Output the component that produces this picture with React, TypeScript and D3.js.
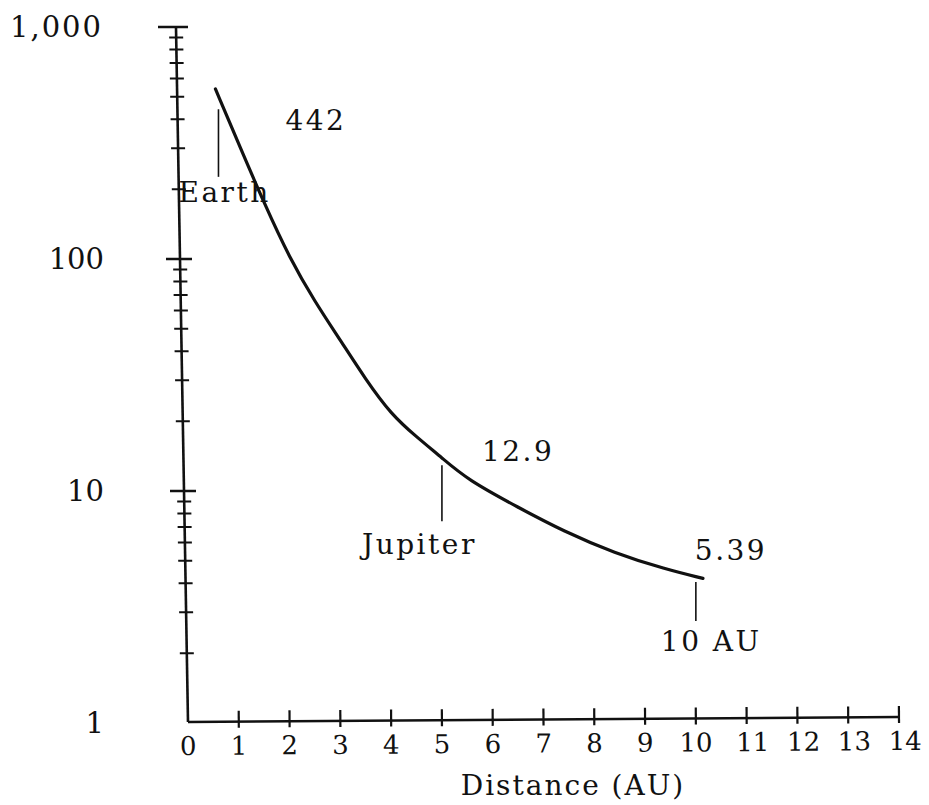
import React from 'react';
import * as d3 from 'd3';

// curve: distance from the sun (AU) vs. value on log axis
const distanceAU = [0.54, 1.02, 1.5, 2.0, 2.5, 3.0, 3.5, 4.0, 4.5, 5.0, 5.5, 6.5, 7.4, 8.4, 9.4, 10.14];
const intensity = [541, 305, 174, 101, 65.3, 44.7, 30.2, 21.4, 17.1, 13.9, 11.2, 8.5, 6.7, 5.4, 4.6, 4.2];

const xTickValues = [0, 1, 2, 3, 4, 5, 6, 7, 8, 9, 10, 11, 12, 13, 14];
const yMajorValues = [1, 10, 100, 1000];

// marker lines under the curve (x in AU, top / bottom on the log axis)
const markerAU = [0.6, 5, 10];
const markerTop = [442, 12.9, 4.05];
const markerBottom = [226, 7.4, 2.75];
const markerName = ['Earth', 'Jupiter', '10 AU'];
const markerValue = ['442', '12.9', '5.39'];

// label offsets in px relative to the marker line
const nameOffset = [[-40, 25], [-80, 33], [-35, 30]];
const valueOffset = [[67, 21], [40, -4], [-1, -22]];

const W = 929;
const H = 805;
const FONT = '"DejaVu Serif", serif';

export default function App() {
  const x = d3.scaleLinear().domain([0, 14]).range([188, 899]);
  const y = d3.scaleLog().domain([1, 1000]).range([723, 27]);
  const x0 = x(0);
  const yBase = 722;

  const pts: [number, number][] = distanceAU.map((d, i) => [x(d), y(intensity[i])]);
  const line = d3.line().curve(d3.curveBasis);
  const yTicks = y.ticks();
  const fmt = d3.format(',');

  return (
    <div style={{ position: 'absolute', left: 0, top: 0 }}>
      <svg width={W} height={H} style={{ background: '#fff', display: 'block' }}>
        {/* y axis, drawn with the slight lean of the original scan */}
        <g transform={`translate(${x0},${yBase}) skewX(0.99) translate(${-x0},${-yBase})`} stroke="#111">
          <line x1={x0} x2={x0} y1={y(1000)} y2={yBase} strokeWidth={2.6} />
          {yTicks.map((t) => {
            const major = yMajorValues.includes(t);
            const top = t === 1000;
            if (t === 1) return null;
            return (
              <line
                key={t}
                x1={x0 - (top ? 18 : major ? 14 : 7)}
                x2={x0 + (major ? 12 : 7)}
                y1={y(t)}
                y2={y(t)}
                strokeWidth={major ? 2.4 : 2}
              />
            );
          })}
        </g>
        {yMajorValues.map((v) => (
          <text
            key={v}
            x={v === 1000 ? 103 : 104}
            y={y(v)}
            dy="0.36em"
            textAnchor="end"
            fontFamily={FONT}
            fontSize={29}
            letterSpacing={v === 1000 ? 2 : 0}
            fill="#111"
          >
            {fmt(v)}
          </text>
        ))}

        {/* x axis */}
        <g transform={`rotate(-0.4, ${x0}, ${yBase})`}>
          <line x1={x0} x2={x(14)} y1={yBase} y2={yBase} stroke="#111" strokeWidth={2.6} />
          {xTickValues.map((t) => (
            <g key={t}>
              {t > 0 && (
                <line x1={x(t)} x2={x(t)} y1={yBase - 11} y2={yBase + 6} stroke="#111" strokeWidth={2.2} />
              )}
              <text
                x={x(t) + (t > 10 ? 6 : 0)}
                y={yBase + 33}
                textAnchor="middle"
                fontFamily={FONT}
                fontSize={26}
                fill="#111"
              >
                {t}
              </text>
            </g>
          ))}
        </g>
        <text
          x={573}
          y={795}
          textAnchor="middle"
          fontFamily={FONT}
          fontSize={28}
          letterSpacing={2}
          fill="#111"
        >
          Distance (AU)
        </text>

        {/* curve */}
        <path d={line(pts) || ''} fill="none" stroke="#111" strokeWidth={3.2} strokeLinecap="round" />

        {/* markers and labels */}
        {markerAU.map((au, i) => {
          const mx = x(au);
          const t = y(markerTop[i]);
          const b = y(markerBottom[i]);
          return (
            <g key={markerName[i]}>
              <line x1={mx} x2={mx} y1={t} y2={b} stroke="#111" strokeWidth={1.6} />
              <text
                x={mx + nameOffset[i][0]}
                y={b + nameOffset[i][1]}
                fontFamily={FONT}
                fontSize={28}
                letterSpacing={2.5}
                fill="#111"
              >
                {markerName[i]}
              </text>
              <text
                x={mx + valueOffset[i][0]}
                y={t + valueOffset[i][1]}
                fontFamily={FONT}
                fontSize={28}
                letterSpacing={2.5}
                fill="#111"
              >
                {markerValue[i]}
              </text>
            </g>
          );
        })}
      </svg>
    </div>
  );
}
